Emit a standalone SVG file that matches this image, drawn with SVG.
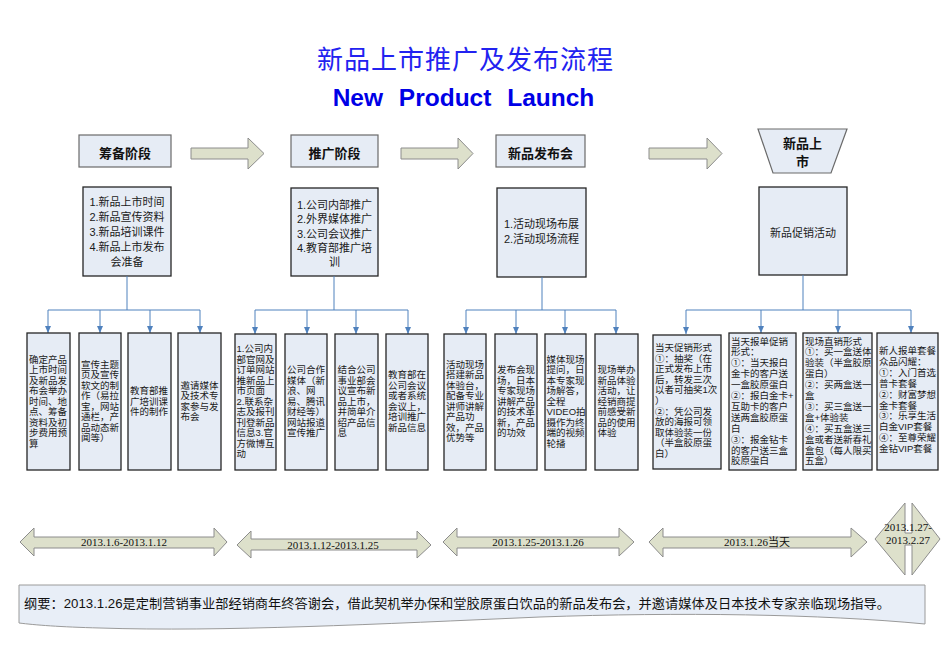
<svg xmlns="http://www.w3.org/2000/svg" width="945" height="669" viewBox="0 0 945 669">
<style>
.box{fill:#e6ecf5;stroke:#262626;stroke-width:1.3}
.hdr{fill:#e6ecf5;stroke:#6a6a6a;stroke-width:1.2}
.blk{fill:#dde0cb;stroke:#8c8c8c;stroke-width:1}
.conn{stroke:#4f81bd;stroke-width:1;fill:none}
.cj{font-family:"Liberation Sans","Noto Sans CJK SC",sans-serif;fill:#1a1a1a}
.t11{font-size:11px;text-anchor:middle}
.t9{font-size:9.5px}
.hd{font-size:13px;font-weight:bold;text-anchor:middle;fill:#111}
.tl{font-family:"Liberation Serif","Noto Sans CJK SC",serif;font-size:11px;text-anchor:middle;fill:#111}
</style>
<defs>
<marker id="ah" markerWidth="7" markerHeight="6" refX="7" refY="3" orient="auto" markerUnits="userSpaceOnUse">
<path d="M0,0 L7,3 L0,6 Z" fill="#4f81bd"/>
</marker>
</defs>
<rect width="945" height="669" fill="#ffffff"/>

<g id="title">
<text x="465.5" y="69" font-family="Liberation Serif,Noto Sans CJK SC,serif" font-size="26" letter-spacing="1" text-anchor="middle" fill="#2222f0">新品上市推广及发布流程</text>
<text x="463.5" y="106" font-family="Liberation Sans,Arial,sans-serif" font-size="24.5" font-weight="bold" word-spacing="9" text-anchor="middle" fill="#0000e6">New Product Launch</text>
</g>

<g id="stage-arrows">
<polygon class="blk" points="191,148 248,148 248,138 264,153.5 248,169 248,159 191,159"/>
<polygon class="blk" points="401,148 458,148 458,138 473,153.5 458,169 458,159 401,159"/>
<polygon class="blk" points="649,148 707,148 707,138 722,153.5 707,169 707,159 649,159"/>
</g>

<g id="stage1"><rect class="hdr" x="79" y="135" width="92" height="32"/><text class="cj hd" x="125" y="158">筹备阶段</text></g>
<g id="stage2"><rect class="hdr" x="291" y="135" width="87" height="32"/><text class="cj hd" x="334.5" y="158">推广阶段</text></g>
<g id="stage3"><rect class="hdr" x="496" y="135" width="89" height="32"/><text class="cj hd" x="540.5" y="158">新品发布会</text></g>
<g id="stage4"><polygon class="hdr" points="758,129 847,129 831,173 773,173"/><text class="cj hd" x="802.5" y="148">新品上</text><text class="cj hd" x="802.5" y="166">市</text></g>

<g id="plan1"><rect class="box" x="83" y="187" width="88" height="89"/>
<text class="cj t11" x="127" y="206">1.新品上市时间<tspan x="127" dy="15">2.新品宣传资料</tspan><tspan x="127" dy="15">3.新品培训课件</tspan><tspan x="127" dy="15">4.新品上市发布</tspan><tspan x="127" dy="15">会准备</tspan></text></g>
<g id="plan2"><rect class="box" x="291" y="188" width="87" height="88"/>
<text class="cj t11" x="334.5" y="209">1.公司内部推广<tspan x="334.5" dy="14.3">2.外界媒体推广</tspan><tspan x="334.5" dy="14.3">3.公司会议推广</tspan><tspan x="334.5" dy="14.3">4.教育部推广培</tspan><tspan x="334.5" dy="14.3">训</tspan></text></g>
<g id="plan3"><rect class="box" x="497" y="188" width="89" height="89"/>
<text class="cj t11" x="541.5" y="228">1.活动现场布展<tspan x="541.5" dy="15">2.活动现场流程</tspan></text></g>
<g id="plan4"><rect class="box" x="759" y="187" width="88" height="88"/>
<text class="cj t11" x="803" y="237">新品促销活动</text></g>

<g id="connectors">
<path class="conn" d="M127,276 V310 M48,310 H200"/>
<line class="conn" x1="48" y1="310" x2="48" y2="333" marker-end="url(#ah)"/>
<line class="conn" x1="100" y1="310" x2="100" y2="333" marker-end="url(#ah)"/>
<line class="conn" x1="150" y1="310" x2="150" y2="333" marker-end="url(#ah)"/>
<line class="conn" x1="200" y1="310" x2="200" y2="333" marker-end="url(#ah)"/>
<path class="conn" d="M334,276 V310 M255,310 H408"/>
<line class="conn" x1="255" y1="310" x2="255" y2="334" marker-end="url(#ah)"/>
<line class="conn" x1="307" y1="310" x2="307" y2="334" marker-end="url(#ah)"/>
<line class="conn" x1="356" y1="310" x2="356" y2="334" marker-end="url(#ah)"/>
<line class="conn" x1="408" y1="310" x2="408" y2="334" marker-end="url(#ah)"/>
<path class="conn" d="M542,277 V310 M466,310 H616"/>
<line class="conn" x1="466" y1="310" x2="466" y2="334" marker-end="url(#ah)"/>
<line class="conn" x1="516" y1="310" x2="516" y2="334" marker-end="url(#ah)"/>
<line class="conn" x1="565" y1="310" x2="565" y2="334" marker-end="url(#ah)"/>
<line class="conn" x1="616" y1="310" x2="616" y2="334" marker-end="url(#ah)"/>
<path class="conn" d="M803,275 V310 M686,310 H911"/>
<line class="conn" x1="686" y1="310" x2="686" y2="334" marker-end="url(#ah)"/>
<line class="conn" x1="761" y1="310" x2="761" y2="333" marker-end="url(#ah)"/>
<line class="conn" x1="838" y1="310" x2="838" y2="333" marker-end="url(#ah)"/>
<line class="conn" x1="911" y1="310" x2="911" y2="333" marker-end="url(#ah)"/>
</g>

<g id="taskA"><rect class="box" x="27" y="333" width="43" height="137"/>
<text class="cj t9" x="29" y="362.5">确定产品<tspan x="29" dy="10.5">上市时间</tspan><tspan x="29" dy="10.5">及新品发</tspan><tspan x="29" dy="10.5">布会举办</tspan><tspan x="29" dy="10.5">时间、地</tspan><tspan x="29" dy="10.5">点、筹备</tspan><tspan x="29" dy="10.5">资料及初</tspan><tspan x="29" dy="10.5">步费用预</tspan><tspan x="29" dy="10.5">算</tspan></text></g>
<g id="taskB"><rect class="box" x="79" y="333" width="42" height="137"/>
<text class="cj t9" x="81" y="367.75">宣传主题<tspan x="81" dy="10.5">页及宣传</tspan><tspan x="81" dy="10.5">软文的制</tspan><tspan x="81" dy="10.5">作（易拉</tspan><tspan x="81" dy="10.5">宝，网站</tspan><tspan x="81" dy="10.5">通栏，产</tspan><tspan x="81" dy="10.5">品动态新</tspan><tspan x="81" dy="10.5">闻等）</tspan></text></g>
<g id="taskC"><rect class="box" x="128" y="333" width="43" height="137"/>
<text class="cj t9" x="130" y="394">教育部推<tspan x="130" dy="10.5">广培训课</tspan><tspan x="130" dy="10.5">件的制作</tspan></text></g>
<g id="taskD"><rect class="box" x="178" y="333" width="43" height="137"/>
<text class="cj t9" x="180.5" y="388.75">邀请媒体<tspan x="180.5" dy="10.5">及技术专</tspan><tspan x="180.5" dy="10.5">家参与发</tspan><tspan x="180.5" dy="10.5">布会</tspan></text></g>

<g id="taskE"><rect class="box" x="235" y="334" width="41" height="136"/>
<text class="cj t9" x="236.5" y="352">1.公司内<tspan x="236.5" dy="10.5">部官网及</tspan><tspan x="236.5" dy="10.5">订单网站</tspan><tspan x="236.5" dy="10.5">推新品上</tspan><tspan x="236.5" dy="10.5">市页面</tspan><tspan x="236.5" dy="10.5">2.联系杂</tspan><tspan x="236.5" dy="10.5">志及报刊</tspan><tspan x="236.5" dy="10.5">刊登新品</tspan><tspan x="236.5" dy="10.5">信息3.官</tspan><tspan x="236.5" dy="10.5">方微博互</tspan><tspan x="236.5" dy="10.5">动</tspan></text></g>
<g id="taskF"><rect class="box" x="285" y="334" width="42" height="136"/>
<text class="cj t9" x="287" y="373">公司合作<tspan x="287" dy="10.5">媒体（新</tspan><tspan x="287" dy="10.5">浪、网</tspan><tspan x="287" dy="10.5">易、腾讯</tspan><tspan x="287" dy="10.5">财经等）</tspan><tspan x="287" dy="10.5">网站报道</tspan><tspan x="287" dy="10.5">宣传推广</tspan></text></g>
<g id="taskG"><rect class="box" x="335" y="334" width="43" height="136"/>
<text class="cj t9" x="337.5" y="373">结合公司<tspan x="337.5" dy="10.5">事业部会</tspan><tspan x="337.5" dy="10.5">议宣布新</tspan><tspan x="337.5" dy="10.5">品上市，</tspan><tspan x="337.5" dy="10.5">并简单介</tspan><tspan x="337.5" dy="10.5">绍产品信</tspan><tspan x="337.5" dy="10.5">息</tspan></text></g>
<g id="taskH"><rect class="box" x="386" y="334" width="42" height="136"/>
<text class="cj t9" x="388" y="378.25">教育部在<tspan x="388" dy="10.5">公司会议</tspan><tspan x="388" dy="10.5">或者系统</tspan><tspan x="388" dy="10.5">会议上，</tspan><tspan x="388" dy="10.5">培训推广</tspan><tspan x="388" dy="10.5">新品信息</tspan></text></g>

<g id="taskI"><rect class="box" x="444" y="334" width="42" height="136"/>
<text class="cj t9" x="446" y="367.75">活动现场<tspan x="446" dy="10.5">搭建新品</tspan><tspan x="446" dy="10.5">体验台，</tspan><tspan x="446" dy="10.5">配备专业</tspan><tspan x="446" dy="10.5">讲师讲解</tspan><tspan x="446" dy="10.5">产品功</tspan><tspan x="446" dy="10.5">效，产品</tspan><tspan x="446" dy="10.5">优势等</tspan></text></g>
<g id="taskJ"><rect class="box" x="495" y="334" width="42" height="136"/>
<text class="cj t9" x="497" y="373">发布会现<tspan x="497" dy="10.5">场，日本</tspan><tspan x="497" dy="10.5">专家现场</tspan><tspan x="497" dy="10.5">讲解产品</tspan><tspan x="497" dy="10.5">的技术革</tspan><tspan x="497" dy="10.5">新，产品</tspan><tspan x="497" dy="10.5">的功效</tspan></text></g>
<g id="taskK"><rect class="box" x="545" y="334" width="41" height="136"/>
<text class="cj t9" x="546.5" y="362.5">媒体现场<tspan x="546.5" dy="10.5">提问，日</tspan><tspan x="546.5" dy="10.5">本专家现</tspan><tspan x="546.5" dy="10.5">场解答，</tspan><tspan x="546.5" dy="10.5">全程</tspan><tspan x="546.5" dy="10.5">VIDEO拍</tspan><tspan x="546.5" dy="10.5">摄作为终</tspan><tspan x="546.5" dy="10.5">端的视频</tspan><tspan x="546.5" dy="10.5">轮播</tspan></text></g>
<g id="taskL"><rect class="box" x="595" y="334" width="43" height="136"/>
<text class="cj t9" x="597.5" y="373">现场举办<tspan x="597.5" dy="10.5">新品体验</tspan><tspan x="597.5" dy="10.5">活动，让</tspan><tspan x="597.5" dy="10.5">经销商提</tspan><tspan x="597.5" dy="10.5">前感受新</tspan><tspan x="597.5" dy="10.5">品的使用</tspan><tspan x="597.5" dy="10.5">体验</tspan></text></g>

<g id="taskM"><rect class="box" x="653" y="335" width="68" height="134"/>
<text class="cj t9" x="655" y="351">当天促销形式<tspan x="655" dy="10.6">①：抽奖（在</tspan><tspan x="655" dy="10.6">正式发布上市</tspan><tspan x="655" dy="10.6">后，转发三次</tspan><tspan x="655" dy="10.6">以者可抽奖1次</tspan><tspan x="655" dy="10.6">）</tspan><tspan x="655" dy="10.6">②：凭公司发</tspan><tspan x="655" dy="10.6">放的海报可领</tspan><tspan x="655" dy="10.6">取体验装一份</tspan><tspan x="655" dy="10.6">（半盒胶原蛋</tspan><tspan x="655" dy="10.6">白）</tspan></text></g>
<g id="taskN"><rect class="box" x="729" y="333" width="67" height="137"/>
<text class="cj t9" x="731" y="344.5">当天报单促销<tspan x="731" dy="10.9">形式：</tspan><tspan x="731" dy="10.9">①：当天报白</tspan><tspan x="731" dy="10.9">金卡的客户送</tspan><tspan x="731" dy="10.9">一盒胶原蛋白</tspan><tspan x="731" dy="10.9">②：报白金卡+</tspan><tspan x="731" dy="10.9">互助卡的客户</tspan><tspan x="731" dy="10.9">送两盒胶原蛋</tspan><tspan x="731" dy="10.9">白</tspan><tspan x="731" dy="10.9">③：报金钻卡</tspan><tspan x="731" dy="10.9">的客户送三盒</tspan><tspan x="731" dy="10.9">胶原蛋白</tspan></text></g>
<g id="taskO"><rect class="box" x="803" y="333" width="69" height="137"/>
<text class="cj t9" x="805" y="344.5">现场直销形式<tspan x="805" dy="10.9">①：买一盒送体</tspan><tspan x="805" dy="10.9">验装（半盒胶原</tspan><tspan x="805" dy="10.9">蛋白）</tspan><tspan x="805" dy="10.9">②：买两盒送一</tspan><tspan x="805" dy="10.9">盒</tspan><tspan x="805" dy="10.9">③：买三盒送一</tspan><tspan x="805" dy="10.9">盒+体验装</tspan><tspan x="805" dy="10.9">④：买五盒送三</tspan><tspan x="805" dy="10.9">盒或者送新春礼</tspan><tspan x="805" dy="10.9">盒包（每人限买</tspan><tspan x="805" dy="10.9">五盒）</tspan></text></g>
<g id="taskP"><rect class="box" x="877" y="333" width="61" height="137"/>
<text class="cj t9" x="879" y="354">新人报单套餐<tspan x="879" dy="10.9">众品闪耀：</tspan><tspan x="879" dy="10.9">①：入门首选</tspan><tspan x="879" dy="10.9">普卡套餐</tspan><tspan x="879" dy="10.9">②：财富梦想</tspan><tspan x="879" dy="10.9">金卡套餐</tspan><tspan x="879" dy="10.9">③：乐享生活</tspan><tspan x="879" dy="10.9">白金VIP套餐</tspan><tspan x="879" dy="10.9">④：至尊荣耀</tspan><tspan x="879" dy="10.9">金钻VIP套餐</tspan></text></g>

<g id="time1"><polygon class="blk" points="20,542 34,528 34,537 214,537 214,528 227,542 214,556 214,548 34,548 34,556"/><text class="tl" x="124" y="546">2013.1.6-2013.1.12</text></g>
<g id="time2"><polygon class="blk" points="237,545 251,531 251,539 417,539 417,531 431,545 417,558 417,550 251,550 251,558"/><text class="tl" x="333" y="548.5">2013.1.12-2013.1.25</text></g>
<g id="time3"><polygon class="blk" points="443,542 457,528 457,537 619,537 619,528 634,542 619,556 619,548 457,548 457,556"/><text class="tl" x="538" y="546">2013.1.25-2013.1.26</text></g>
<g id="time4"><polygon class="blk" points="649,542 663,528 663,537 851,537 851,528 867,542 851,557 851,548 663,548 663,557"/><text class="tl" x="757" y="546">2013.1.26当天</text></g>
<g id="time5"><polygon class="blk" points="875,539 905,503 905,533 912,533 912,503 940,539 912,575 912,545 905,545 905,575"/><text class="tl" x="908" y="531">2013.1.27-</text><text class="tl" x="908" y="544">2013.2.27</text></g>

<g id="summary">
<path d="M19,585 H925 V624 C820,614 680,612 540,617 C380,624 220,632 100,628 C60,627 35,625 19,623 Z" fill="#e8eef7" stroke="#9a9a9a" stroke-width="1"/>
<text x="24" y="608" font-family="Liberation Sans,Noto Sans CJK SC,sans-serif" font-size="13" fill="#111" textLength="866" lengthAdjust="spacingAndGlyphs">纲要：2013.1.26是定制营销事业部经销商年终答谢会，借此契机举办保和堂胶原蛋白饮品的新品发布会，并邀请媒体及日本技术专家亲临现场指导。</text>
</g>
</svg>
